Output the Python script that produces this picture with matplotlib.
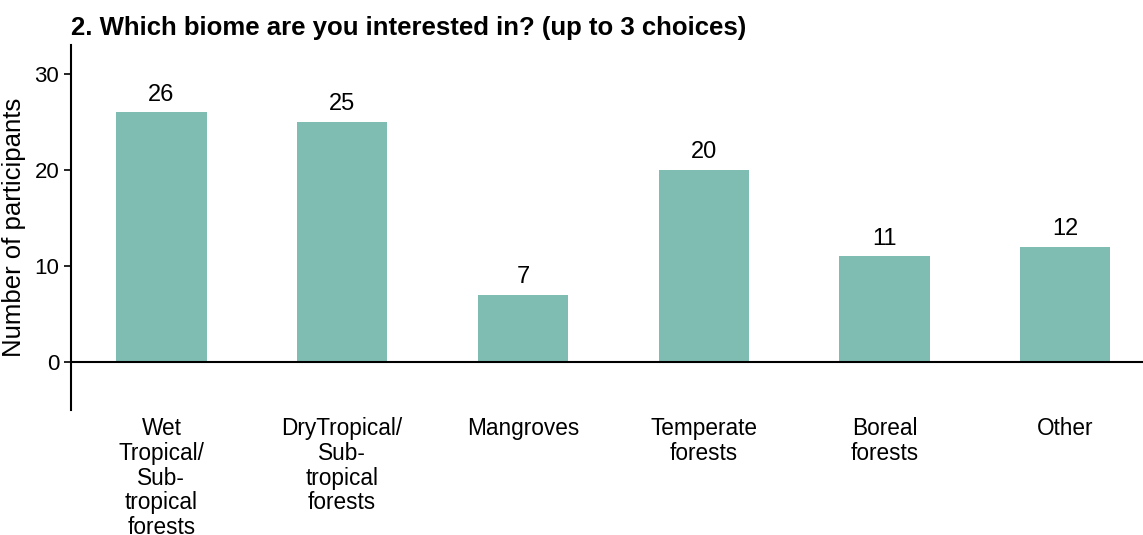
import matplotlib
matplotlib.use("Agg")
import matplotlib.pyplot as plt

categories = ["Wet\nTropical/\nSub-\ntropical\nforests", "DryTropical/\nSub-\ntropical\nforests",
              "Mangroves", "Temperate\nforests", "Boreal\nforests", "Other"]
counts = [26, 25, 7, 20, 11, 12]
yticks = [0, 10, 20, 30]

plt.rcParams['font.family'] = ['Liberation Sans', 'DejaVu Sans']

fig = plt.figure(figsize=(11.43, 5.35), dpi=100)
ax = fig.add_axes([71/1143, 1-410/535, 1-71/1143, (410-45)/535])
x = list(range(len(categories)))
ax.bar(x, counts, width=0.5, color="#7fbcb1")
for xi, v in zip(x, counts):
    ax.text(xi, v + 0.7, str(v), ha='center', va='bottom', fontsize=17)
ax.axhline(0, color='black', lw=1.5)
ax.set_xlim(-0.5, 5.43)
ax.set_ylim(-5, 33)
ax.set_yticks(yticks)
ax.set_xticks(x)
ax.set_xticklabels(categories, fontsize=16.3, linespacing=1.1, va='top')
ax.tick_params(axis='x', length=0, pad=5)
ax.tick_params(axis='y', labelsize=16, length=5, width=1.2)
for s in ['top', 'right', 'bottom']:
    ax.spines[s].set_visible(False)
ax.spines['left'].set_linewidth(1.5)
ax.set_ylabel("Number of participants", fontsize=18.5, labelpad=6)
fig.text(71/1143, 1-28/535, "2. Which biome are you interested in? (up to 3 choices)",
         fontsize=18.5, fontweight='bold', va='center', ha='left')
fig.savefig("out.png", dpi=100)
